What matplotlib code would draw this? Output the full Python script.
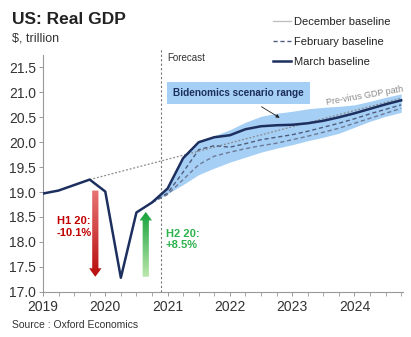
import numpy as np
import matplotlib.pyplot as plt
from matplotlib.patches import FancyArrow
from matplotlib.lines import Line2D
from matplotlib.colors import LinearSegmentedColormap

plt.rcParams['font.family'] = ['Liberation Sans', 'DejaVu Sans']

# quarterly history + forecast
hist_q = [2019.0, 2019.25, 2019.5, 2019.75, 2020.0, 2020.25, 2020.5, 2020.75]
fcst_q = [2020.75, 2021.0, 2021.25, 2021.5, 2021.75, 2022.0, 2022.25, 2022.5, 2022.75,
          2023.0, 2023.25, 2023.5, 2023.75, 2024.0, 2024.25, 2024.5, 2024.75]

march = [18.97, 19.03, 19.14, 19.25, 19.01, 17.28, 18.59, 18.79,
         19.07, 19.68, 20.00, 20.10, 20.14, 20.26, 20.32, 20.34,
         20.35, 20.38, 20.43, 20.50, 20.58, 20.67, 20.76, 20.84]
february = [18.79, 18.98, 19.40, 19.85, 19.93, 19.90, 19.97, 20.05, 20.10,
            20.15, 20.22, 20.30, 20.38, 20.47, 20.57, 20.66, 20.75]
december = [18.79, 18.95, 19.25, 19.55, 19.72, 19.80, 19.87, 19.93, 19.98,
            20.05, 20.12, 20.20, 20.28, 20.38, 20.48, 20.58, 20.68]
range_low = [18.79, 18.97, 19.15, 19.35, 19.48, 19.60, 19.70, 19.80, 19.88,
             19.95, 20.03, 20.10, 20.18, 20.30, 20.42, 20.52, 20.60]
range_high = [18.79, 19.10, 19.72, 20.02, 20.13, 20.25, 20.40, 20.52, 20.58,
              20.62, 20.67, 20.70, 20.72, 20.75, 20.82, 20.90, 20.97]

previrus_t = [2019.75, 2024.75]
previrus = [19.25, 20.88]

h1_drop = [19.03, 17.30]   # arrow extent for H1 20
h2_rise = [17.30, 18.60]   # arrow extent for H2 20

years = [2019, 2020, 2021, 2022, 2023, 2024]
forecast_start = 2020.89

navy = '#1c2f5e'
band = '#a6cff5'

fig = plt.figure(figsize=(4.11, 3.37), dpi=100)
ax = fig.add_axes([0.1046, 0.1344, 0.876, 0.7024])

t_all = hist_q + fcst_q[1:]
ax.fill_between(fcst_q, range_low, range_high, color=band, lw=0, zorder=1)
ax.plot(previrus_t, previrus, color='#8a8a8a', lw=0.9, ls=(0, (1.5, 1.5)), zorder=2)
ax.plot(fcst_q, december, color='#6d7a96', lw=1.0, ls=(0, (3, 2)), zorder=3)
ax.plot(fcst_q, february, color='#4f5d7d', lw=1.0, ls=(0, (3, 2)), zorder=3)
ax.plot(t_all, march, color=navy, lw=1.8, zorder=4)

ax.axvline(forecast_start, ymin=0, ymax=1.03, color='#777777', lw=0.8,
           ls=(0, (2, 2)), clip_on=False, zorder=2)
ax.text(forecast_start + 0.1, 21.69, 'Forecast', fontsize=7, color='#333333',
        va='center', ha='left')


def gradient_arrow(x, y0, y1, c_start, c_end):
    arr = FancyArrow(x, y0, 0, y1 - y0, width=0.1, head_width=0.2,
                     head_length=0.17, length_includes_head=True,
                     lw=0, fc='none')
    ax.add_patch(arr)
    cmap = LinearSegmentedColormap.from_list('g', [c_start, c_end])
    grad = np.linspace(0, 1, 256).reshape(-1, 1)
    lo, hi = min(y0, y1), max(y0, y1)
    if y1 < y0:
        grad = grad[::-1]
    img = ax.imshow(grad, cmap=cmap, aspect='auto', origin='lower',
                    extent=[x - 0.12, x + 0.12, lo, hi], zorder=3)
    img.set_clip_path(arr)


gradient_arrow(2019.84, h1_drop[0], h1_drop[1], '#e87474', '#b80d0d')
gradient_arrow(2020.65, h2_rise[0], h2_rise[1], '#bce8ad', '#16a23a')

ax.text(2019.22, 18.3, 'H1 20:\n-10.1%', color='#c00000', fontsize=8,
        fontweight='bold', ha='left', va='center', linespacing=1.15)
ax.text(2020.97, 18.05, 'H2 20:\n+8.5%', color='#2bb24c', fontsize=8,
        fontweight='bold', ha='left', va='center', linespacing=1.15)

ax.annotate('Bidenomics scenario range', xy=(2022.8, 20.49), xytext=(2022.14, 20.99),
            fontsize=7.2, fontweight='bold', color=navy, ha='center', va='center',
            bbox=dict(boxstyle='square,pad=0.6', fc=band, ec='none'),
            arrowprops=dict(arrowstyle='-|>', color='#222222', lw=0.6,
                            mutation_scale=5, shrinkA=4, shrinkB=0))
ax.text(2024.16, 20.93, 'Pre-virus GDP path', fontsize=6.5, color='#8a8a8a',
        rotation=10, ha='center', va='center')

ax.set_xlim(2019, 2024.78)
ax.set_ylim(17, 21.75)
ax.set_yticks(np.arange(17, 21.51, 0.5))
ax.set_yticklabels(['%.1f' % v for v in np.arange(17, 21.51, 0.5)])
ax.set_xticks(years)
ax.set_xticklabels([str(y) for y in years])
ax.set_xticks(np.arange(2019, 2024.8, 0.25), minor=True)
ax.tick_params(axis='both', labelsize=10, colors='#333333', length=3, width=0.7)
ax.tick_params(axis='x', which='both', color='#999999', length=3, pad=3)
ax.tick_params(axis='y', color='#999999', pad=2)
for s in ['top', 'right']:
    ax.spines[s].set_visible(False)
for s in ['left', 'bottom']:
    ax.spines[s].set_color('#999999')
    ax.spines[s].set_linewidth(0.8)

fig.text(0.029, 0.942, 'US: Real GDP', fontsize=12.5, fontweight='bold',
         color='#222222', va='center')
fig.text(0.029, 0.885, '$, trillion', fontsize=9, color='#333333', va='center')
fig.text(0.029, 0.035, 'Source : Oxford Economics', fontsize=7.5,
         color='#333333', va='center')

handles = [Line2D([], [], color='#bdbdbd', lw=0.9),
           Line2D([], [], color='#4f5d7d', lw=1.0, ls=(0, (3, 2))),
           Line2D([], [], color=navy, lw=1.8)]
fig.legend(handles, ['December baseline', 'February baseline', 'March baseline'],
           loc='upper left', bbox_to_anchor=(0.64, 0.98), frameon=False,
           fontsize=8, handlelength=1.6, handletextpad=0.3, labelspacing=0.9,
           labelcolor='#222222')

fig.savefig('out.png', dpi=100)
